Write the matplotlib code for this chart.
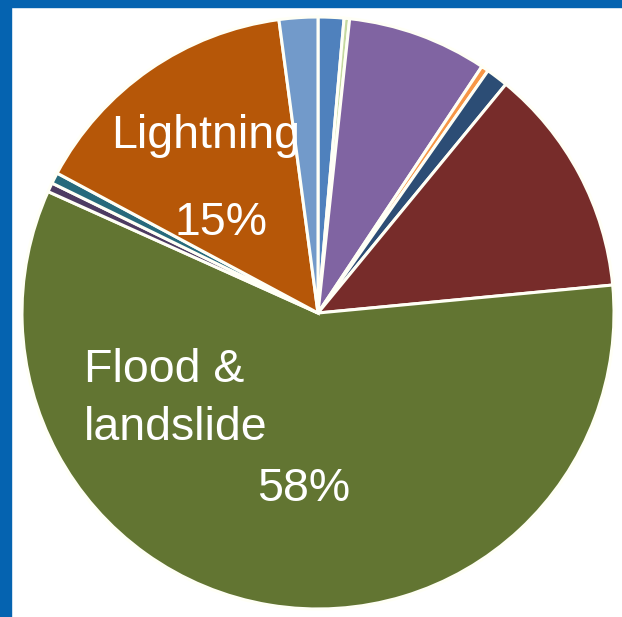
import matplotlib
matplotlib.use("Agg")
import matplotlib.pyplot as plt
from matplotlib.patches import Rectangle

# Share of events by hazard type, clockwise from 12 o'clock
categories = ["Storm", "Hail", "Drought", "Wind", "Tornado", "Heat wave",
              "Flood & landslide", "Cold wave", "Wildfire", "Lightning", "Other"]
shares = [1.4, 0.3, 7.6, 0.4, 1.2, 12.5, 58.0, 0.5, 0.6, 15.0, 2.1]
colors = ["#4F81BD", "#C5D9A0", "#8064A2", "#F79646", "#2C4D75", "#772C2A",
          "#627532", "#4D3B62", "#276A7C", "#B65708", "#729ACA"]

W, H = 622, 617
cx, cy, R = 318, 313, 296  # pie centre and radius in pixels

fig = plt.figure(figsize=(W / 100, H / 100), dpi=100)
ax = fig.add_axes([0, 0, 1, 1])

wedges, _ = ax.pie(shares, colors=colors, startangle=90, counterclock=False,
                   radius=1.0,
                   wedgeprops=dict(edgecolor="#FFFFF6", linewidth=2.2))

ax.set_aspect("auto")
ax.set_xlim(-cx / R, (W - cx) / R)
ax.set_ylim(-(H - cy) / R, cy / R)
ax.axis("off")


def px(x, y):
    return (x - cx) / R, (cy - y) / R


label_style = dict(color="white", fontsize=33.5, family="Liberation Sans",
                   ha="left", va="baseline")

i_light = categories.index("Lightning")
i_flood = categories.index("Flood & landslide")

ax.text(*px(111, 148), "Lightning", **label_style)
ax.text(*px(174, 235), f"{shares[i_light]:.0f}%", **label_style)
ax.text(*px(84, 382), "Flood &", **label_style)
ax.text(*px(84, 440), "landslide", **label_style)
ax.text(*px(257, 501), f"{shares[i_flood]:.0f}%", **label_style)

# Blue frame along the top and left edges
frame = "#0563B0"
fig.patches.append(Rectangle((0, 1 - 7 / H), 1, 7 / H, transform=fig.transFigure,
                             color=frame, zorder=10))
fig.patches.append(Rectangle((0, 0), 11 / W, 1, transform=fig.transFigure,
                             color=frame, zorder=10))

fig.savefig("out.png", dpi=100, facecolor="white")
